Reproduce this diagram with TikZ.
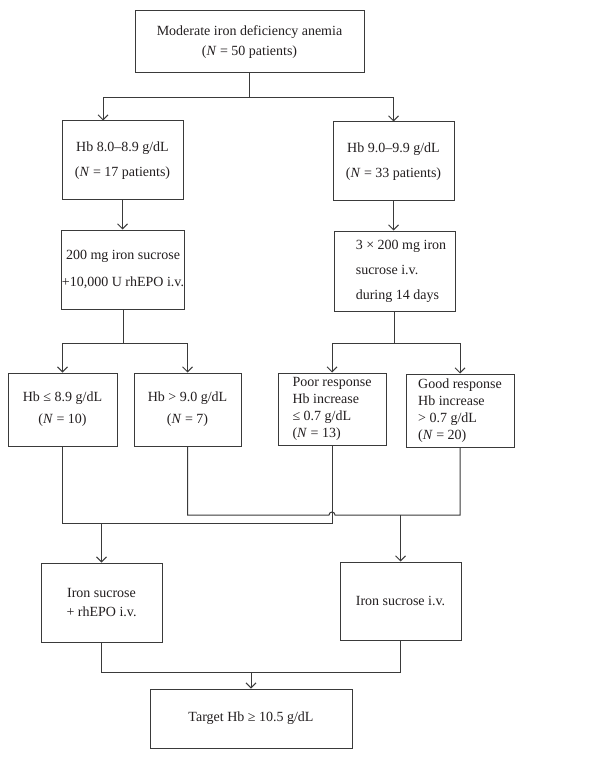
\documentclass[tikz,border=0pt]{standalone}
\usepackage{fontspec}
\setmainfont{Liberation Serif}
\usetikzlibrary{arrows.meta,calc}
\definecolor{lc}{HTML}{3A3A3A}
\definecolor{txt}{HTML}{231F20}
\begin{document}
\begin{tikzpicture}[x=1pt,y=-1pt,
  box/.style={draw=lc,line width=1pt,inner sep=0pt,text=txt,align=center},
  ln/.style={draw=lc,line width=1pt},
  arr/.style={ln,-{Straight Barb[length=5pt,width=10pt]}},
  fs/.style={font=\fontsize{14}{#1}\selectfont}]
\useasboundingbox[fill=white] (0,0) rectangle (610,759);

\node[box,fs=20,minimum width=229pt,minimum height=62pt] (top) at (249.5,42)
  {Moderate iron deficiency anemia\\(\textit{N} = 50 patients)};
\node[box,fs=25,minimum width=121pt,minimum height=79pt] (L1) at (122.5,160.5)
  {Hb 8.0–8.9 g/dL\\(\textit{N} = 17 patients)};
\node[box,fs=25,minimum width=121pt,minimum height=79pt] (R1) at (393.5,161.5)
  {Hb 9.0–9.9 g/dL\\(\textit{N} = 33 patients)};
\node[box,fs=27,minimum width=122pt,minimum height=79pt] (L2) at (123,269.5)
  {200 mg iron sucrose\\+10,000 U rhEPO i.v.};
\node[box,fs=25,align=left,minimum width=121pt,minimum height=80pt] (R2) at (394.5,271)
  {\hspace*{13pt}3 × 200 mg iron\\\hspace*{13pt}sucrose i.v.\\\hspace*{13pt}during 14 days};
\node[box,fs=22,minimum width=109pt,minimum height=73pt] (L3) at (62.5,409.5)
  {Hb ≤ 8.9 g/dL\\(\textit{N} = 10)};
\node[box,fs=22,minimum width=107pt,minimum height=73pt] (L4) at (187.5,409.5)
  {Hb > 9.0 g/dL\\(\textit{N} = 7)};
\node[box,fs=17,align=left,minimum width=108pt,minimum height=72pt] (R3) at (332,409)
  {Poor response\\Hb increase\\≤ 0.7 g/dL\\(\textit{N} = 13)};
\node[box,fs=17,align=left,minimum width=108pt,minimum height=73pt] (R4) at (460,410.5)
  {Good response\\Hb increase\\> 0.7 g/dL\\(\textit{N} = 20)};
\node[box,fs=19,minimum width=121pt,minimum height=79pt] (B1) at (101.5,602.5)
  {Iron sucrose\\+ rhEPO i.v.};
\node[box,fs=19,minimum width=121pt,minimum height=78pt] (B2) at (400.5,601)
  {Iron sucrose i.v.};
\node[box,fs=19,minimum width=202pt,minimum height=59pt] (fin) at (251,718.5)
  {Target Hb ≥ 10.5 g/dL};

% top split
\coordinate (s1) at (top.south |- 0,98);
\draw[ln] (top.south) -- (s1);
\draw[arr] (s1) -| ([xshift=-19.5pt]L1.north);
\draw[arr] (s1) -| (R1.north);
\draw[arr] (L1.south) -- (L1.south |- L2.north);
\draw[arr] (R1.south) -- (R1.south |- R2.north);

% second splits
\coordinate (s2) at (L2.south |- 0,343);
\draw[ln] (L2.south) -- (s2);
\draw[arr] (s2) -| (L3.north);
\draw[arr] (s2) -| (L4.north);
\coordinate (s3) at (R2.south |- 0,343);
\draw[ln] (R2.south) -- (s3);
\draw[arr] (s3) -| (R3.north);
\draw[arr] (s3) -| (R4.north);

% merges
\coordinate (mA) at (B1.north |- 0,523);
\coordinate (mB) at (B2.north |- 0,515);
\draw[ln] (L3.south) |- (R3.south |- 0,523) -- (R3.south);
\draw[ln] (L4.south) -- (L4.south |- 0,515)
  -- ($(R3.south |- 0,515)+(-3,0)$) arc[start angle=180,end angle=0,radius=3pt]
  -- (R4.south |- 0,515) -- (R4.south);
\draw[arr] (mA) -- (B1.north);
\draw[arr] (mB) -- (B2.north);

% final merge
\coordinate (mC) at (fin.north |- 0,672);
\draw[ln] (B1.south) |- (B2.south |- 0,672) -- (B2.south);
\draw[arr] (mC) -- (fin.north);
\end{tikzpicture}
\end{document}
